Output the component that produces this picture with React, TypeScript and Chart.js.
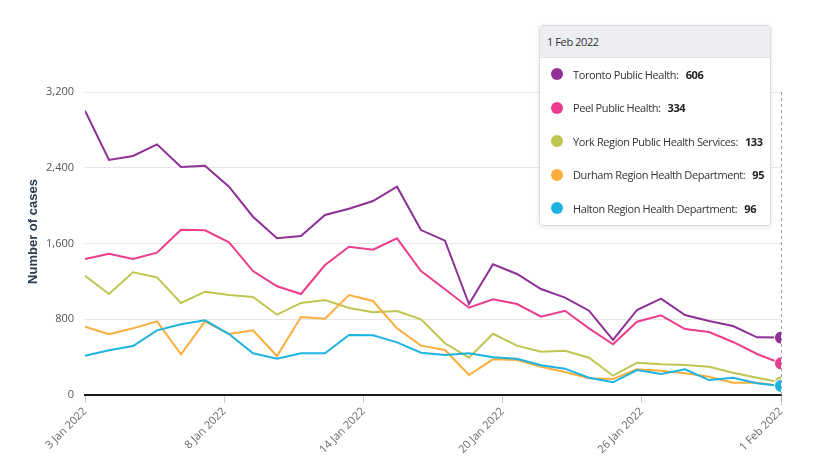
import React, { useEffect, useRef } from "react";
import { Chart, registerables } from "chart.js";

Chart.register(...registerables);

const DATES = [
  "3 Jan 2022", "4 Jan 2022", "5 Jan 2022", "6 Jan 2022", "7 Jan 2022", "8 Jan 2022",
  "9 Jan 2022", "10 Jan 2022", "11 Jan 2022", "12 Jan 2022", "13 Jan 2022", "14 Jan 2022",
  "15 Jan 2022", "16 Jan 2022", "17 Jan 2022", "18 Jan 2022", "19 Jan 2022", "20 Jan 2022",
  "21 Jan 2022", "22 Jan 2022", "23 Jan 2022", "24 Jan 2022", "25 Jan 2022", "26 Jan 2022",
  "27 Jan 2022", "28 Jan 2022", "29 Jan 2022", "30 Jan 2022", "31 Jan 2022", "1 Feb 2022",
];

const X_TICK_LABELS = ["3 Jan 2022", "8 Jan 2022", "14 Jan 2022", "20 Jan 2022", "26 Jan 2022", "1 Feb 2022"];

const Y_MAX = 3200;
const Y_STEP = 800;
const Y_TITLE = "Number of cases";

const SERIES_NAMES = [
  "Toronto Public Health",
  "Peel Public Health",
  "York Region Public Health Services",
  "Durham Region Health Department",
  "Halton Region Health Department",
];

const TORONTO = [3002, 2482, 2524, 2647, 2408, 2421, 2200, 1883, 1655, 1679, 1901, 1967, 2049, 2200, 1742, 1630, 961, 1380, 1278, 1119, 1028, 890, 581, 898, 1017, 845, 781, 729, 609, 606];
const PEEL = [1436, 1492, 1436, 1503, 1746, 1739, 1612, 1309, 1148, 1067, 1373, 1566, 1534, 1655, 1309, 1116, 922, 1010, 961, 827, 890, 704, 535, 774, 841, 697, 665, 560, 433, 334];
const YORK = [1260, 1067, 1296, 1243, 972, 1091, 1056, 1035, 848, 972, 1003, 919, 873, 887, 799, 546, 394, 647, 521, 457, 468, 394, 204, 341, 324, 317, 299, 235, 183, 133];
const DURHAM = [721, 641, 704, 778, 430, 778, 644, 683, 412, 824, 806, 1056, 993, 704, 521, 475, 211, 377, 370, 299, 243, 176, 169, 271, 257, 229, 193, 130, 130, 95];
const HALTON = [415, 472, 517, 683, 747, 789, 644, 440, 383, 440, 440, 634, 630, 556, 447, 422, 440, 398, 383, 314, 278, 183, 134, 264, 222, 271, 158, 183, 124, 96];

const SERIES_VALUES = [TORONTO, PEEL, YORK, DURHAM, HALTON];
const COLORS = ["#8e3096", "#ec3d8c", "#bec64f", "#fbae3c", "#1db4e1"];

const LAST = DATES.length - 1;
const FONT = "'Open Sans', sans-serif";

const crosshairPlugin = {
  id: "crosshair",
  beforeDatasetsDraw(chart: any) {
    const { ctx, chartArea, scales } = chart;
    const x = Math.round(scales.x.getPixelForValue(LAST)) + 0.5;
    ctx.save();
    ctx.strokeStyle = "#a0a0a0";
    ctx.lineWidth = 1;
    ctx.setLineDash([3, 3]);
    ctx.beginPath();
    ctx.moveTo(x, chartArea.top);
    ctx.lineTo(x, chartArea.bottom + 10);
    ctx.stroke();
    ctx.restore();
  },
};

const yTitlePlugin = {
  id: "yTitle",
  afterDraw(chart: any) {
    const { ctx, chartArea } = chart;
    const cy = (chartArea.top + chartArea.bottom) / 2 - 12;
    ctx.save();
    ctx.translate(33, cy);
    ctx.rotate(-Math.PI / 2);
    ctx.fillStyle = "#2b3a50";
    ctx.font = "bold 13px 'Liberation Sans', Arial, sans-serif";
    ctx.textAlign = "center";
    ctx.textBaseline = "middle";
    ctx.fillText(Y_TITLE, 0, 0);
    ctx.restore();
  },
};

export default function App() {
  const canvasRef = useRef<HTMLCanvasElement | null>(null);

  useEffect(() => {
    const canvas = canvasRef.current;
    if (!canvas) return;
    const tickPositions = X_TICK_LABELS.map((_, i) => (i * LAST) / (X_TICK_LABELS.length - 1));
    const chart = new Chart(canvas, {
      type: "line",
      data: {
        datasets: SERIES_NAMES.map((name, si) => ({
          label: name,
          data: SERIES_VALUES[si].map((v, i) => ({ x: i, y: v })),
          borderColor: COLORS[si],
          backgroundColor: COLORS[si],
          borderWidth: 2,
          tension: 0,
          order: SERIES_NAMES.length - 1 - si,
          pointRadius: (ctx: any) => (ctx.dataIndex === LAST ? 6.5 : 0),
          pointHoverRadius: (ctx: any) => (ctx.dataIndex === LAST ? 6.5 : 0),
          pointBorderColor: "#ffffff",
          pointBorderWidth: 1,
          pointBackgroundColor: COLORS[si],
        })),
      },
      options: {
        animation: false,
        responsive: true,
        maintainAspectRatio: false,
        events: [],
        layout: { padding: { top: 92, right: 45, bottom: 0, left: 0 } },
        plugins: {
          legend: { display: false },
          tooltip: { enabled: false },
        },
        scales: {
          x: {
            type: "linear",
            min: 0,
            max: LAST,
            afterBuildTicks: (scale: any) => {
              scale.ticks = tickPositions.map((v) => ({ value: v }));
            },
            afterFit: (scale: any) => {
              scale.height = 73;
            },
            grid: {
              display: true,
              drawOnChartArea: false,
              drawTicks: true,
              tickLength: 8,
              color: "#cccccc",
            },
            border: { display: true, color: "#1a1a1a", width: 2 },
            ticks: {
              autoSkip: false,
              minRotation: 45,
              maxRotation: 45,
              padding: 2,
              color: "#666666",
              font: { family: FONT, size: 11 },
              callback: (_v: any, index: number) => X_TICK_LABELS[index],
            },
          },
          y: {
            min: 0,
            max: Y_MAX,
            afterFit: (scale: any) => {
              scale.width = 85;
            },
            grid: { color: "#e6e6e6", drawTicks: false, lineWidth: 1 },
            border: { display: false },
            ticks: {
              stepSize: Y_STEP,
              padding: 11,
              color: "#555555",
              font: { family: FONT, size: 11 },
              callback: (v: any) => Number(v).toLocaleString("en-US"),
            },
            title: { display: false },
          },
        },
      },
      plugins: [crosshairPlugin, yTitlePlugin],
    } as any);
    return () => chart.destroy();
  }, []);

  return (
    <div
      style={{
        position: "fixed",
        left: 0,
        top: 0,
        width: 826,
        height: 468,
        background: "#ffffff",
        overflow: "hidden",
      }}
    >
      <div style={{ position: "absolute", left: 0, top: 0, width: 826, height: 468 }}>
        <canvas ref={canvasRef} />
      </div>
      <div
        style={{
          position: "absolute",
          left: 539,
          top: 25,
          width: 232,
          height: 201,
          boxSizing: "border-box",
          background: "rgba(255,255,255,0.97)",
          border: "1px solid #dcdcdc",
          borderRadius: 4,
          boxShadow: "0 1px 4px rgba(0,0,0,0.12)",
          fontFamily: FONT,
          fontSize: 11,
          letterSpacing: "-0.4px",
          color: "#333333",
          overflow: "hidden",
        }}
      >
        <div
          style={{
            height: 31,
            background: "#eceef1",
            borderBottom: "1px solid #e0e2e5",
            display: "flex",
            alignItems: "center",
            paddingLeft: 7,
          }}
        >
          {DATES[LAST]}
        </div>
        {SERIES_NAMES.map((name, si) => (
          <div
            key={name}
            style={{
              position: "absolute",
              left: 0,
              top: 48 + si * 33.6 - 10,
              height: 20,
              display: "flex",
              alignItems: "center",
              whiteSpace: "nowrap",
            }}
          >
            <span
              style={{
                display: "inline-block",
                width: 12,
                height: 12,
                borderRadius: 6,
                background: COLORS[si],
                marginLeft: 11,
                marginRight: 10,
              }}
            />
            <span>{name}:</span>
            <span style={{ fontWeight: 700, marginLeft: 7, color: "#222222" }}>
              {SERIES_VALUES[si][LAST]}
            </span>
          </div>
        ))}
      </div>
    </div>
  );
}
